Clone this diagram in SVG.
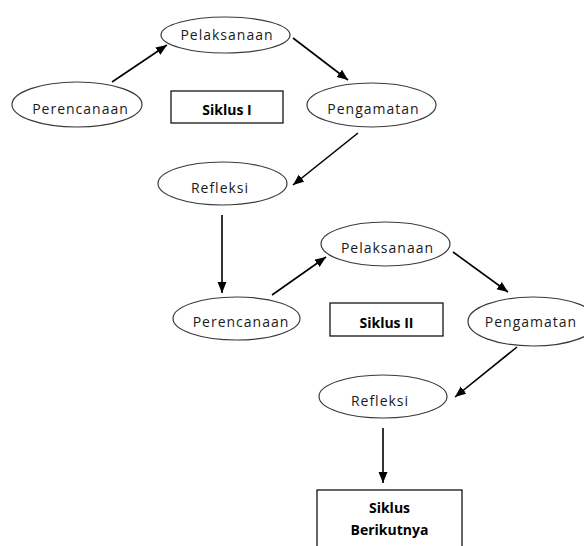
<svg xmlns="http://www.w3.org/2000/svg" width="584" height="546" viewBox="0 0 584 546">
<style>
.n{fill:#fff;stroke:#3a3a3a;stroke-width:1.2}
.b{fill:#fff;stroke:#000;stroke-width:1.2}
.t{font-family:"Open Sans",sans-serif;font-size:14px;fill:#1a1a1a;text-anchor:middle;letter-spacing:1px}
.tb{font-family:"Open Sans",sans-serif;font-size:14px;font-weight:bold;fill:#000;text-anchor:middle}
.c{stroke:#000;stroke-width:1.6;fill:none;marker-end:url(#ah)}
</style>
<defs>
<marker id="ah" markerUnits="userSpaceOnUse" markerWidth="12" markerHeight="10" refX="11" refY="4.5" orient="auto">
<path d="M0,0 L11,4.5 L0,9 z" fill="#000"/>
</marker>
</defs>
<rect width="584" height="546" fill="#fff"/>
<g id="connectors">
<line class="c" x1="112" y1="82" x2="167" y2="45"/>
<line class="c" x1="293" y1="38" x2="348" y2="80"/>
<line class="c" x1="358" y1="133" x2="293" y2="185"/>
<line class="c" x1="222" y1="215" x2="222" y2="293"/>
<line class="c" x1="272" y1="295" x2="326" y2="257"/>
<line class="c" x1="453" y1="252" x2="508" y2="292"/>
<line class="c" x1="517" y1="347" x2="455" y2="397"/>
<line class="c" x1="383" y1="428" x2="383" y2="483"/>
</g>
<g id="pelaksanaan1"><ellipse class="n" cx="225.5" cy="35" rx="64.5" ry="18"/><text class="t" x="227" y="39.5">Pelaksanaan</text></g>
<g id="perencanaan1"><ellipse class="n" cx="77" cy="104.5" rx="65" ry="22.5"/><text class="t" x="80.5" y="114">Perencanaan</text></g>
<g id="siklus1"><rect class="b" x="171" y="91" width="112" height="32"/><text class="tb" x="227" y="115">Siklus I</text></g>
<g id="pengamatan1"><ellipse class="n" cx="371.5" cy="105" rx="64.5" ry="22"/><text class="t" x="373.5" y="114">Pengamatan</text></g>
<g id="refleksi1"><ellipse class="n" cx="222.5" cy="183.5" rx="64.5" ry="21.5"/><text class="t" x="220" y="193">Refleksi</text></g>
<g id="pelaksanaan2"><ellipse class="n" cx="385.5" cy="244" rx="64.5" ry="22"/><text class="t" x="387.5" y="253">Pelaksanaan</text></g>
<g id="perencanaan2"><ellipse class="n" cx="236.5" cy="318.5" rx="63.5" ry="21.5"/><text class="t" x="241" y="327">Perencanaan</text></g>
<g id="siklus2"><rect class="b" x="330" y="303" width="113" height="33"/><text class="tb" x="386.5" y="328">Siklus II</text></g>
<g id="pengamatan2"><ellipse class="n" cx="533" cy="321.5" rx="65" ry="24.5"/><text class="t" x="531" y="327">Pengamatan</text></g>
<g id="refleksi2"><ellipse class="n" cx="383" cy="396.5" rx="64" ry="21.5"/><text class="t" x="380" y="406">Refleksi</text></g>
<g id="siklusBerikutnya"><rect class="b" x="317" y="490" width="145" height="70"/><text class="tb" x="389.5" y="513">Siklus</text><text class="tb" x="389.5" y="535">Berikutnya</text></g>
</svg>
